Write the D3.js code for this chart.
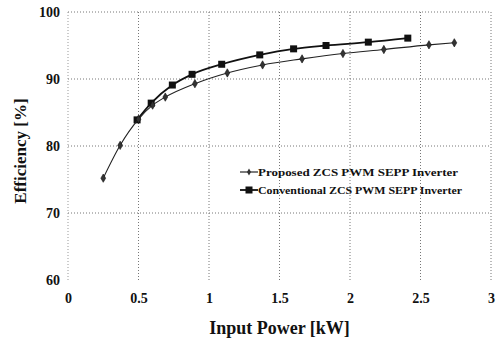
<!DOCTYPE html>
<html>
<head>
<meta charset="utf-8">
<script src="https://d3js.org/d3.v7.min.js"></script>
<style>
  body { margin: 0; background: #fff; }
  text { font-family: "Liberation Serif", "Times New Roman", serif; font-weight: bold; fill: #111; }
</style>
</head>
<body>
<div id="container"></div>
<script>
/* DATA */
const proposedX = [0.25, 0.37, 0.50, 0.60, 0.69, 0.90, 1.13, 1.38, 1.66, 1.95, 2.24, 2.56, 2.74];
const proposedY = [75.2, 80.1, 84.0, 86.1, 87.3, 89.3, 90.9, 92.1, 93.0, 93.8, 94.4, 95.1, 95.4];
const conventionalX = [0.49, 0.59, 0.74, 0.88, 1.09, 1.36, 1.60, 1.83, 2.13, 2.41];
const conventionalY = [83.9, 86.4, 89.1, 90.7, 92.2, 93.6, 94.5, 95.0, 95.5, 96.1];
const xTicks = [0, 0.5, 1, 1.5, 2, 2.5, 3];
const yTicks = [60, 70, 80, 90, 100];
const seriesNames = ["Proposed ZCS PWM SEPP Inverter", "Conventional ZCS PWM SEPP Inverter"];

/* CONSTANTS */
const width = 497, height = 340;
const plotLeft = 68, plotRight = 491, plotTop = 12, plotBottom = 280;

const svg = d3.select("#container").append("svg")
  .attr("width", width)
  .attr("height", height);

/* SCALES */
const x = d3.scaleLinear().domain([0, 3]).range([plotLeft, plotRight]);
const y = d3.scaleLinear().domain([60, 100]).range([plotBottom, plotTop]);

// grid, dotted like the scan
svg.append("g").selectAll("line")
  .data(yTicks.filter(d => d > 60))
  .join("line")
  .attr("x1", plotLeft).attr("x2", plotRight)
  .attr("y1", d => y(d)).attr("y2", d => y(d))
  .attr("stroke", "#777").attr("stroke-width", 1).attr("stroke-dasharray", "1,2");

svg.append("g").selectAll("line")
  .data(xTicks)
  .join("line")
  .attr("x1", d => x(d)).attr("x2", d => x(d))
  .attr("y1", plotTop).attr("y2", plotBottom)
  .attr("stroke", d => d === 0 ? "#999" : "#777")
  .attr("stroke-width", 1).attr("stroke-dasharray", "1,2");

/* AXES */
const xAxis = d3.axisBottom(x).tickValues(xTicks).tickSize(0).tickPadding(0)
  .tickFormat(d => d);
svg.append("g")
  .attr("transform", `translate(0, ${plotBottom + 23})`)
  .call(xAxis)
  .call(g => g.select(".domain").remove())
  .selectAll("text")
  .attr("dy", 0)
  .style("font-size", "14px")
  .style("font-family", "Liberation Serif");

const yAxis = d3.axisLeft(y).tickValues(yTicks).tickSize(0).tickPadding(0);
svg.append("g")
  .attr("transform", `translate(${plotLeft - 8}, 0)`)
  .call(yAxis)
  .call(g => g.select(".domain").remove())
  .selectAll("text")
  .style("font-size", "14px")
  .style("font-family", "Liberation Serif");

svg.append("text")
  .attr("x", (plotLeft + plotRight) / 2)
  .attr("y", 334)
  .attr("text-anchor", "middle")
  .style("font-size", "18px")
  .text("Input Power [kW]");

svg.append("text")
  .attr("transform", `translate(26, ${151}) rotate(-90)`)
  .attr("text-anchor", "middle")
  .style("font-size", "17px")
  .text("Efficiency [%]");

/* SERIES */
const proposed = proposedX.map((d, i) => ({ x: d, y: proposedY[i] }));
const conventional = conventionalX.map((d, i) => ({ x: d, y: conventionalY[i] }));

const line = d3.line().x(d => x(d.x)).y(d => y(d.y)).curve(d3.curveMonotoneX);

svg.append("path")
  .datum(conventional)
  .attr("d", line)
  .attr("fill", "none").attr("stroke", "#111").attr("stroke-width", 1.8);

svg.append("g").selectAll("rect")
  .data(conventional)
  .join("rect")
  .attr("x", d => x(d.x) - 3.5).attr("y", d => y(d.y) - 3.5)
  .attr("width", 7).attr("height", 7)
  .attr("fill", "#111");

svg.append("path")
  .datum(proposed)
  .attr("d", line)
  .attr("fill", "none").attr("stroke", "#222").attr("stroke-width", 1.1);

const diamond = d3.symbol().type(d3.symbolDiamond).size(20);
svg.append("g").selectAll("path")
  .data(proposed)
  .join("path")
  .attr("transform", d => `translate(${x(d.x)}, ${y(d.y)})`)
  .attr("d", diamond)
  .attr("fill", "#333").attr("stroke", "#111").attr("stroke-width", 0.6);

/* LEGEND */
const legend = svg.append("g").attr("transform", "translate(240, 172)");
seriesNames.forEach((name, i) => {
  const row = legend.append("g").attr("transform", `translate(0, ${i * 18})`);
  row.append("line")
    .attr("x1", 0).attr("x2", 18).attr("y1", 0).attr("y2", 0)
    .attr("stroke", "#111").attr("stroke-width", i === 0 ? 1.1 : 1.8);
  if (i === 0) {
    row.append("path").attr("transform", "translate(9,0)")
      .attr("d", d3.symbol().type(d3.symbolDiamond).size(14)).attr("fill", "#333");
  } else {
    row.append("rect").attr("x", 5.5).attr("y", -3.5).attr("width", 7).attr("height", 7).attr("fill", "#111");
  }
  row.append("text")
    .attr("x", 18).attr("y", 3.5)
    .style("font-size", "10px")
    .attr("textLength", i === 0 ? 200 : 204)
    .attr("lengthAdjust", "spacingAndGlyphs")
    .text(name);
});
</script>
</body>
</html>
